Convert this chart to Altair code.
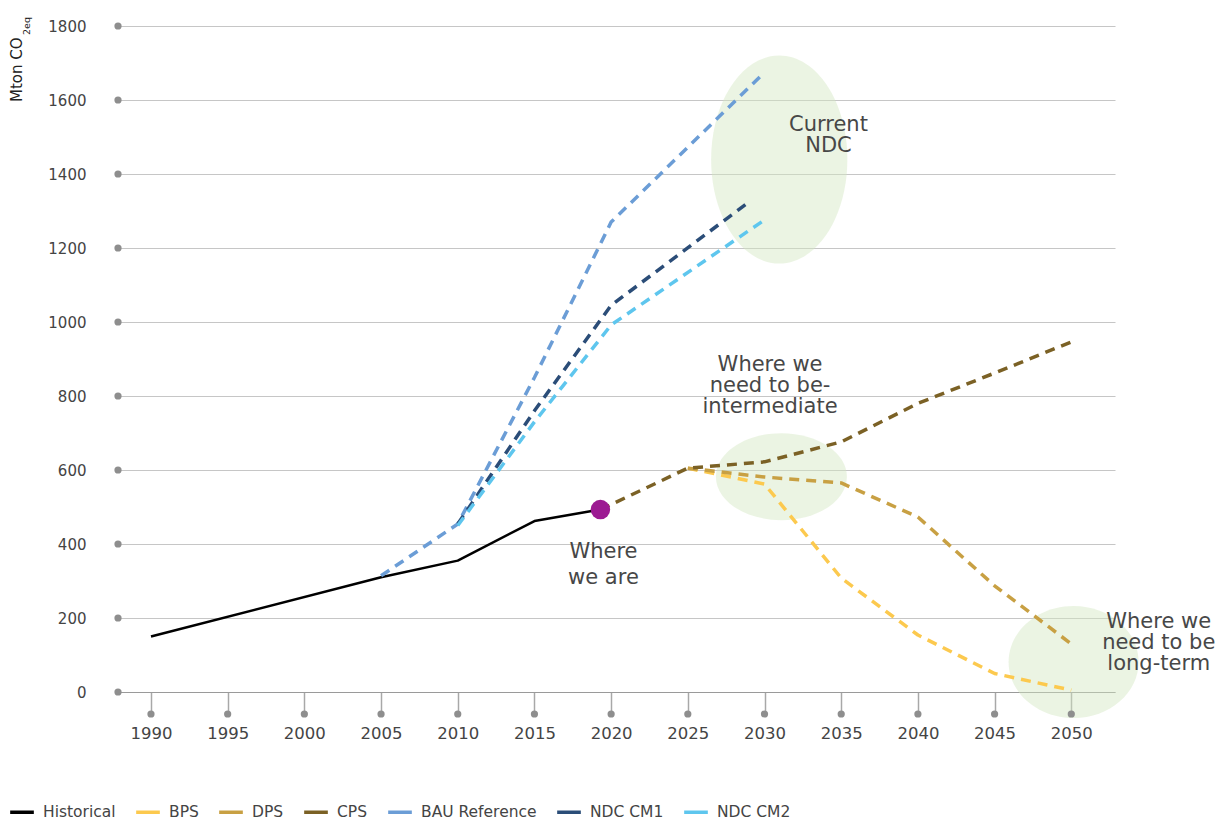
import altair as alt
import pandas as pd

FONT = "DejaVu Sans"
TXT = "#444444"

# ---------------- data ----------------
series_names = ["Historical", "BPS", "DPS", "CPS", "BAU Reference", "NDC CM1", "NDC CM2"]
series_colors = ["#000000", "#fcc94e", "#c8a043", "#7b6125", "#6b9dd6", "#2b4d78", "#5ec6ee"]

hist_years = [1990, 2005, 2010, 2015, 2019.3]
hist_vals = [150, 310, 355, 462, 493]

bps_years = [2025, 2030, 2035, 2040, 2045, 2050]
bps_vals = [605, 562, 308, 154, 50, 5]

dps_years = [2025, 2030, 2035, 2040, 2045, 2050]
dps_vals = [605, 581, 565, 473, 287, 130]

cps_years = [2019.3, 2025, 2030, 2035, 2040, 2045, 2050]
cps_vals = [493, 605, 622, 676, 780, 862, 946]

bau_years = [2005, 2010, 2015, 2020, 2030]
bau_vals = [314, 454, 850, 1270, 1675]

cm1_years = [2010, 2015, 2020, 2029]
cm1_vals = [454, 760, 1045, 1325]

cm2_years = [2010, 2015, 2020, 2030]
cm2_vals = [450, 730, 992, 1276]

x_ticks = [1990, 1995, 2000, 2005, 2010, 2015, 2020, 2025, 2030, 2035, 2040, 2045, 2050]
y_ticks = [0, 200, 400, 600, 800, 1000, 1200, 1400, 1600, 1800]

# "Where we are" marker
now_year = [2019.3]
now_val = [493]

# highlight ellipses (centres)
ell_names = ["Current NDC", "intermediate", "long-term"]
ell_x = [2030.96, 2031.1, 2050.15]
ell_y = [1439, 582, 81]

# annotations (multi-line), anchored at first line's baseline
ann_keys = ["ndc", "mid", "now", "long"]
ann_lines = [["Current", "NDC"],
             ["Where we", "need to be-", "intermediate"],
             ["Where", "we are"],
             ["Where we", "need to be", "long-term"]]
ann_x = [2034.17, 2030.36, 2019.5, 2055.7]
ann_y = [1516, 868, 362, 173]

# ---------------- tables ----------------
def mk(name, ys, vs):
    return pd.DataFrame({"series": name, "year": ys, "value": vs})

hist_df = mk("Historical", hist_years, hist_vals)
dash_df = pd.concat([
    mk("BPS", bps_years, bps_vals),
    mk("DPS", dps_years, dps_vals),
    mk("CPS", cps_years, cps_vals),
    mk("BAU Reference", bau_years, bau_vals),
    mk("NDC CM1", cm1_years, cm1_vals),
    mk("NDC CM2", cm2_years, cm2_vals),
], ignore_index=True)
now_df = pd.DataFrame({"year": now_year, "value": now_val})
ell_df = pd.DataFrame({"name": ell_names, "year": ell_x, "value": ell_y})
ann_df = pd.DataFrame({"key": ann_keys, "year": ann_x, "value": ann_y})
xt_df = pd.DataFrame({"year": x_ticks})
yt_df = pd.DataFrame({"value": y_ticks})

W, H = 997, 666

x_scale = alt.Scale(domain=[1987.85, 2052.85], nice=False, zero=False)
y_scale = alt.Scale(domain=[0, 1800], nice=False)
color_scale = alt.Scale(domain=series_names, range=series_colors)

x_axis = alt.Axis(values=x_ticks, format="d", title=None, grid=False,
                  domain=True, domainColor="#9a9a9a", domainWidth=1.2,
                  ticks=True, tickSize=22, tickColor="#a8a8a8", tickWidth=1.5,
                  labelFont=FONT, labelFontSize=16.5, labelColor=TXT, labelPadding=11)
y_axis = alt.Axis(values=y_ticks, format="d", title=None, grid=True,
                  gridColor="#c6c6c6", gridWidth=1.2, domain=False,
                  ticks=False, tickSize=0, labelPadding=32,
                  labelFont=FONT, labelFontSize=15, labelColor=TXT)

X = alt.X("year:Q", scale=x_scale, axis=x_axis)
Y = alt.Y("value:Q", scale=y_scale, axis=y_axis)

# ellipses
ell_shapes = {
    "Current NDC": ("M -0.655 0 A 0.655 1 0 1 0 0.655 0 A 0.655 1 0 1 0 -0.655 0 Z", 208 ** 2),
    "intermediate": ("M -1 0 A 1 0.664 0 1 0 1 0 A 1 0.664 0 1 0 -1 0 Z", 131 ** 2),
    "long-term": ("M -1 0 A 1 0.862 0 1 0 1 0 A 1 0.862 0 1 0 -1 0 Z", 130 ** 2),
}
ell_layers = []
for nm in ell_names:
    path, sz = ell_shapes[nm]
    ell_layers.append(
        alt.Chart(ell_df).transform_filter(alt.datum.name == nm)
        .mark_point(shape=path, size=sz, filled=True, fill="#d3e6c2",
                    opacity=0.45, strokeWidth=0)
        .encode(x=X, y=Y)
    )

legend = alt.Legend(orient="none", legendX=-110, legendY=772, direction="horizontal",
                    columns=7, title=None, symbolType="stroke", symbolSize=560,
                    symbolStrokeWidth=3.5, labelFont=FONT, labelFontSize=15.5,
                    labelColor=TXT, columnPadding=13, labelOffset=7, padding=0)

hist_line = alt.Chart(hist_df).mark_line(strokeWidth=2.5, strokeJoin="round").encode(
    x=X, y=Y,
    color=alt.Color("series:N", scale=color_scale, legend=legend),
    order="year:Q",
)
dash_lines = alt.Chart(dash_df).mark_line(strokeWidth=3.5, strokeJoin="round",
                                          strokeDash=[10, 7]).encode(
    x=X, y=Y,
    color=alt.Color("series:N", scale=color_scale, legend=legend),
    detail="series:N",
    order="year:Q",
)

now_dot = alt.Chart(now_df).mark_circle(size=380, color="#9c1a92", opacity=1).encode(x=X, y=Y)

x_dots = alt.Chart(xt_df).mark_circle(size=52, color="#8e8e8e", opacity=1).encode(
    x=X, y=alt.value(H + 22))
y_dots = alt.Chart(yt_df).mark_circle(size=52, color="#8e8e8e", opacity=1).encode(
    x=alt.value(0), y=Y)

line_heights = {"ndc": 21, "mid": 21, "now": 26, "long": 21}
ann_layers = []
for key, lines in zip(ann_keys, ann_lines):
    ann_layers.append(
        alt.Chart(ann_df).transform_filter(alt.datum.key == key)
        .mark_text(text=lines, font=FONT, fontSize=21, color="#474747",
                   align="center", baseline="alphabetic",
                   lineHeight=line_heights[key])
        .encode(x=X, y=Y)
    )

ytitle = alt.Chart(yt_df).transform_filter(alt.datum.value == 0).mark_text(
    text="Mton CO", font=FONT, fontSize=15, color="#222222", angle=270,
    align="left", baseline="alphabetic").encode(x=alt.value(-96), y=alt.value(76))
ysub = alt.Chart(yt_df).transform_filter(alt.datum.value == 0).mark_text(
    text="2eq", font=FONT, fontSize=9.5, color="#222222", angle=270,
    align="left", baseline="alphabetic").encode(x=alt.value(-88.5), y=alt.value(9))

chart = alt.layer(
    *ell_layers, hist_line, dash_lines, now_dot, x_dots, y_dots, *ann_layers, ytitle, ysub
).properties(
    width=W, height=H,
    padding={"left": 110, "top": 18, "right": 102, "bottom": 129},
    autosize=alt.AutoSizeParams(type="none"),
).configure_view(stroke=None)

chart.save("out.html", embed_options={"renderer": "svg", "actions": False})
